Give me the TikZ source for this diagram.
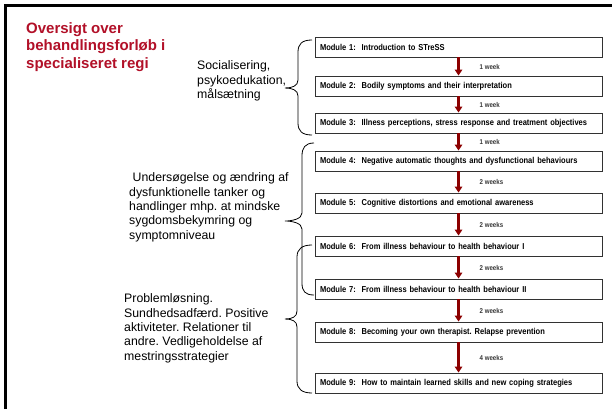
\documentclass[tikz,border=0pt]{standalone}
\usepackage{fontspec}
\setmainfont{Liberation Sans}
\newfontfamily\narrowfont{Liberation Sans}[FakeStretch=0.875]
\usetikzlibrary{arrows.meta,calc}
\definecolor{titlered}{RGB}{178,16,40}
\definecolor{arrowred}{RGB}{140,0,0}
\definecolor{boxline}{RGB}{50,50,50}
\definecolor{weekgray}{RGB}{55,55,55}
\frenchspacing
\begin{document}
\begin{tikzpicture}[x=1pt,y=-1pt,
  modbox/.style={draw=boxline,line width=0.9pt,minimum height=20pt,text width=277pt,
    inner xsep=5pt,inner ysep=0pt,align=left,
    font=\narrowfont\bfseries\fontsize{8.6}{10}\selectfont},
  arr/.style={draw=arrowred,line width=2.8pt,-{Triangle[width=7.5pt,length=6pt]}},
  week/.style={font=\narrowfont\bfseries\fontsize{7}{8}\selectfont,text=weekgray,anchor=west,inner sep=0pt},
  sidetext/.style={font=\fontsize{12.3}{14.4}\selectfont,align=left,anchor=north west,inner sep=0pt},
  bracestyle/.style={draw=black,line width=0.8pt}
]
\useasboundingbox (0,0) rectangle (612,409);
\fill[white] (0,0) rectangle (612,409);
% frame
\draw[line width=2.4pt] (5.5,409) -- (5.5,5.5) -- (612,5.5);
% title
\node[anchor=north west,inner sep=0pt,align=left,text=titlered,
  font=\bfseries\fontsize{15}{17.5}\selectfont] (title) at (26,22.3)
  {Oversigt over\\behandlingsforløb i\\specialiseret regi};
% modules
\node[modbox] (m1) at (458.5,47)  {Module 1:\ \ Introduction to STreSS};
\node[modbox] (m2) at (458.5,86)  {Module 2:\ \ Bodily symptoms and their interpretation};
\node[modbox] (m3) at (458.5,123) {Module 3:\ \ Illness perceptions, stress response and treatment objectives};
\node[modbox] (m4) at (458.5,161) {Module 4:\ \ Negative automatic thoughts and dysfunctional behaviours};
\node[modbox] (m5) at (458.5,203) {Module 5:\ \ Cognitive distortions and emotional awareness};
\node[modbox] (m6) at (458.5,246) {Module 6:\ \ From illness behaviour to health behaviour I};
\node[modbox] (m7) at (458.5,289) {Module 7:\ \ From illness behaviour to health behaviour II};
\node[modbox] (m8) at (458.5,332) {Module 8:\ \ Becoming your own therapist. Relapse prevention};
\node[modbox] (m9) at (458.5,383) {Module 9:\ \ How to maintain learned skills and new coping strategies};
% arrows
\draw[arr] (m1.south) -- (m2.north);
\draw[arr] (m2.south) -- (m3.north);
\draw[arr] (m3.south) -- (m4.north);
\draw[arr] (m4.south) -- (m5.north);
\draw[arr] (m5.south) -- (m6.north);
\draw[arr] (m6.south) -- (m7.north);
\draw[arr] (m7.south) -- (m8.north);
\draw[arr] (m8.south) -- (m9.north);
% week labels
\node[week] (w1) at ($(m1.south)!0.5!(m2.north)+(21,0)$) {1 week};
\node[week] (w2) at ($(m2.south)!0.5!(m3.north)+(21,0)$) {1 week};
\node[week] (w3) at ($(m3.south)!0.5!(m4.north)+(21,0)$) {1 week};
\node[week] (w4) at ($(m4.south)!0.5!(m5.north)+(21,0)$) {2 weeks};
\node[week] (w5) at ($(m5.south)!0.5!(m6.north)+(21,0)$) {2 weeks};
\node[week] (w6) at ($(m6.south)!0.5!(m7.north)+(21,0)$) {2 weeks};
\node[week] (w7) at ($(m7.south)!0.5!(m8.north)+(21,0)$) {2 weeks};
\node[week] (w8) at ($(m8.south)!0.5!(m9.north)+(21,0)$) {4 weeks};
% side texts
\node[sidetext] (t1) at (197,60.5) {Socialisering,\\psykoedukation,\\målsætning};
\node[sidetext] (t2) at (129,172.5) {\hspace{3.5pt}Undersøgelse og ændring af\\dysfunktionelle tanker og\\handlinger mhp. at mindske\\sygdomsbekymring og\\symptomniveau};
\node[sidetext] (t3) at (124,293.5) {Problemløsning.\\Sundhedsadfærd. Positive\\aktiviteter. Relationer til\\andre. Vedligeholdelse af\\mestringsstrategier};
% braces
\draw[bracestyle] (312,40) .. controls (302,40) and (298,44) .. (298,52) -- (298,80)
  .. controls (298,86) and (292,88) .. (285,88) .. controls (292,88) and (298,90) .. (298,96)
  -- (298,123) .. controls (298,131) and (302,135) .. (312,135);
\draw[bracestyle] (314,143) .. controls (305,143) and (302,148) .. (302,156) -- (302,213)
  .. controls (302,219) and (292,221) .. (285,221) .. controls (292,221) and (302,223) .. (302,229)
  -- (302,283) .. controls (302,291) and (305,295) .. (314,295);
\draw[bracestyle] (312,245) .. controls (302,245) and (297,249) .. (297,257) -- (297,311)
  .. controls (297,317) and (292,319) .. (285,319) .. controls (292,319) and (297,321) .. (297,327)
  -- (297,381) .. controls (297,389) and (302,393) .. (312,393);
\end{tikzpicture}
\end{document}
